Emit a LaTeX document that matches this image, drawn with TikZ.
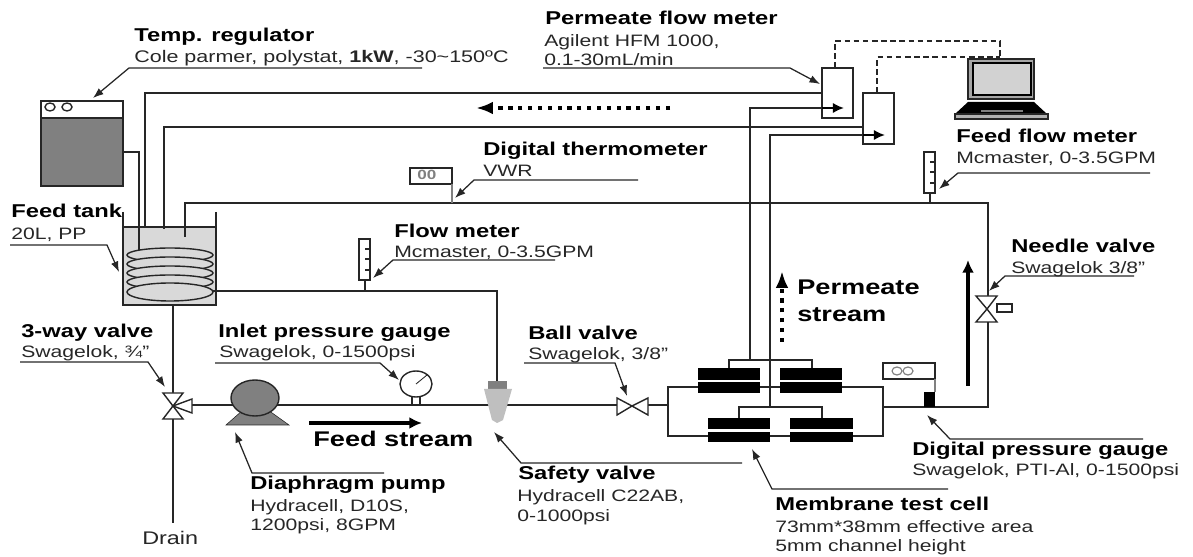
\documentclass[tikz,border=0pt]{standalone}
\usepackage{fontspec}
\usepackage{tikz}
\usetikzlibrary{arrows.meta}
\newfontfamily\wideface[FakeStretch=1.28]{Liberation Sans}
\definecolor{ink}{HTML}{262626}
\definecolor{tankgray}{HTML}{D9D9D9}
\definecolor{bodygray}{HTML}{808080}
\tikzset{
  pipe/.style={line width=1.1pt,draw=ink},
  leader/.style={line width=0.9pt,draw=ink,-{Latex[length=7.5pt,width=5.5pt]}},
  flowarrow/.style={line width=3pt,-{Latex[length=9pt,width=8.5pt]}},
  dotarrow/.style={line width=2.8pt,dash pattern=on 3pt off 4pt,-{Latex[length=12pt,width=9pt]}},
  datalink/.style={line width=0.9pt,dash pattern=on 4pt off 2.5pt,draw=ink},
  outline/.style={line width=1pt,draw=ink},
  plate/.style={fill=black},
  headtext/.style={anchor=base west,inner sep=0pt,font=\wideface\fontsize{13.2}{15}\selectfont\bfseries},
  subtext/.style={anchor=base west,inner sep=0pt,font=\wideface\fontsize{11.75}{14}\selectfont,text=ink},
  streamtext/.style={anchor=base west,inner sep=0pt,font=\wideface\fontsize{15.1}{18}\selectfont\bfseries}
}
\begin{document}
\begin{tikzpicture}[x=0.025cm,y=-0.025cm]
\useasboundingbox (0,0) rectangle (1193,557);
% temperature regulator
\coordinate (RegOut) at (123,152);
\coordinate (CoilTop) at (139,250);
\draw[outline,fill=bodygray] (41,118) rectangle (123,186);
\draw[outline,fill=white] (41,101) rectangle (123,118);
\draw[outline] (50,107) ellipse [x radius=5,y radius=4];
\draw[outline] (67,107) ellipse [x radius=5,y radius=4];
% feed tank
\coordinate (TankA) at (145,227);
\coordinate (TankB) at (164,229);
\coordinate (TankC) at (185,237);
\coordinate (CoilEnd) at (213,291);
\coordinate (TankOut) at (173,305);
\draw[outline,fill=tankgray] (123,227) rectangle (216,305);
\draw[outline] (123,212) -- (123,227);
\draw[outline] (216,212) -- (216,227);
\draw[outline,fill=tankgray] (170,255) ellipse [x radius=43,y radius=7];
\draw[outline,fill=tankgray] (170,264) ellipse [x radius=43,y radius=7];
\draw[outline,fill=tankgray] (170,273) ellipse [x radius=43,y radius=7];
\draw[outline,fill=tankgray] (170,282) ellipse [x radius=43,y radius=7];
\draw[outline,fill=tankgray] (170,292) ellipse [x radius=43,y radius=9];
\draw[pipe] (RegOut) -| (CoilTop);
% permeate flow meters
\coordinate (MeterATop) at (835,68);
\coordinate (MeterAIn) at (822,93);
\coordinate (MeterARet) at (822,108);
\coordinate (MeterATip) at (844,108);
\coordinate (MeterBTop) at (877,93);
\coordinate (MeterBIn) at (863,127);
\coordinate (MeterBRet) at (863,135);
\coordinate (MeterBTip) at (885,135);
\coordinate (LaptopA) at (1000,41);
\coordinate (LaptopB) at (1000,57);
\draw[outline] (822,68) rectangle (853,118);
\draw[outline] (863,93) rectangle (894,144);
\draw[pipe] (TankA) |- (MeterAIn);
\draw[pipe] (TankB) |- (MeterBIn);
\draw[datalink] (MeterATop) |- (LaptopA) -- (LaptopB);
\draw[datalink] (MeterBTop) |- (LaptopB);
% laptop
\draw[line width=1pt,draw=ink,fill=gray!70] (968,59) rectangle (1034,99);
\draw[line width=1pt,draw=black,fill=gray!35] (973,63) rectangle (1031,95);
\fill[black] (968,102) -- (1034,102) -- (1047,114) -- (955,114) -- cycle;
\fill[bodygray] (981,110) rectangle (1023,112);
\draw[outline,fill=gray!60] (955,114) rectangle (1048,119);
% feed loop back from the needle valve
\coordinate (SensorEnd) at (988,296);
\coordinate (CellOut) at (988,322);
\draw[pipe] (TankC) |- (988,203) -- (SensorEnd);
% needle valve
\draw[outline,fill=white] (976,296) -- (997,296) -- (987,309) -- (997,322) -- (976,322) -- (987,309) -- cycle;
\draw[outline,fill=white] (997,304) rectangle (1012,312);
% thermometer
\coordinate (ThermoOut) at (452,184);
\coordinate (ThermoIn) at (452,203);
\draw[outline] (410,168) rectangle (452,184);
\node[subtext,text=bodygray,font=\wideface\fontsize{9.5}{10}\selectfont\bfseries] (ThermoRead) at (417,180) {00};
\draw[pipe,draw=bodygray] (ThermoOut) -- (ThermoIn);
% feed flow meter
\coordinate (FeedStem) at (930,193);
\coordinate (FeedStemEnd) at (930,203);
\draw[outline] (924,152) rectangle (935,193);
\draw[outline] (930,162) -- (935,162) (930,172) -- (935,172) (930,183) -- (935,183);
\draw[pipe] (FeedStem) -- (FeedStemEnd);
% flow meter and bypass to the safety valve
\coordinate (FlowStem) at (365,280);
\coordinate (FlowStemEnd) at (365,291);
\coordinate (SafetyIn) at (497,381);
\draw[outline] (359,239) rectangle (370,280);
\draw[outline] (365,249) -- (370,249) (365,259) -- (370,259) (365,270) -- (370,270);
\draw[pipe] (FlowStem) -- (FlowStemEnd);
\draw[pipe] (CoilEnd) -| (SafetyIn);
% main feed line
\coordinate (DrainEnd) at (173,523);
\coordinate (ThreeOut) at (192,405);
\coordinate (BallIn) at (617,405);
\coordinate (BallOut) at (648,405);
\coordinate (LoopIn) at (668,405);
\draw[pipe] (TankOut) -- (DrainEnd);
\draw[pipe] (ThreeOut) -- (BallIn);
\draw[pipe] (BallOut) -- (LoopIn);
% 3-way valve
\draw[outline,fill=white] (163,393) -- (183,393) -- (173,406) -- (183,419) -- (163,419) -- (173,406) -- cycle;
\draw[outline,fill=white] (173,406) -- (192,399) -- (192,413) -- cycle;
% pump
\fill[bodygray,draw=ink,line width=0.4pt] (226,425) -- (243,410) -- (268,410) -- (289,425) -- cycle;
\draw[outline,fill=bodygray] (255,398) ellipse [x radius=24,y radius=18];
% inlet gauge
\draw[outline,fill=white] (416,384) ellipse [x radius=16,y radius=13];
\draw[line width=0.6pt,draw=ink] (416,384) -- (427,375);
\draw[outline] (412,397) -- (412,405) (420,397) -- (420,405);
% safety valve
\fill[bodygray] (488,381) rectangle (507,389);
\fill[gray!50] (484,389) -- (512,389) -- (503,420) -- (497,423) -- (492,420) -- cycle;
% ball valve
\draw[outline,fill=white] (617,398) -- (632,406) -- (617,415) -- cycle;
\draw[outline,fill=white] (648,398) -- (632,406) -- (648,415) -- cycle;
% membrane cells
\coordinate (PermA) at (750,360);
\coordinate (PermB) at (770,407);
\coordinate (LoopOut) at (883,407);
\coordinate (ValveFeed) at (988,407);
\draw[pipe] (668,387) rectangle (883,436);
\draw[pipe] (LoopIn) -- (668,387);
\draw[pipe] (LoopOut) -- (ValveFeed) -- (CellOut);
\draw[pipe] (729,368) |- (812,360) -- (812,368);
\draw[pipe] (739,418) |- (822,407) -- (822,418);
\draw[pipe] (PermA) |- (MeterARet);
\draw[pipe] (PermB) |- (MeterBRet);
\draw[plate] (698,368) rectangle (759,379);
\draw[plate] (698,382) rectangle (759,392);
\draw[plate] (780,368) rectangle (841,379);
\draw[plate] (780,382) rectangle (841,392);
\draw[plate] (708,418) rectangle (769,428);
\draw[plate] (708,432) rectangle (769,441);
\draw[plate] (790,418) rectangle (852,428);
\draw[plate] (790,432) rectangle (852,441);
% digital pressure gauge
\draw[outline] (883,363) rectangle (935,379);
\draw[line width=0.8pt,draw=bodygray] (897,371) ellipse [x radius=5,y radius=4];
\draw[line width=0.8pt,draw=bodygray] (908,371) ellipse [x radius=5,y radius=4];
\draw[pipe,draw=bodygray] (935,379) -- (935,392);
\fill[black] (924,392) rectangle (935,407);
% flow direction
\coordinate (ReturnFrom) at (670,108);
\coordinate (ReturnTo) at (476,108);
\coordinate (PermFrom) at (782,342);
\coordinate (PermTo) at (782,271);
\coordinate (FeedFrom) at (309,423);
\coordinate (FeedTo) at (422,423);
\coordinate (RiseFrom) at (968,386);
\coordinate (RiseTo) at (968,260);
\draw[line width=2pt,-{Latex[length=8pt,width=7.5pt]}] (MeterARet) -- (MeterATip);
\draw[line width=2pt,-{Latex[length=8pt,width=7.5pt]}] (MeterBRet) -- (MeterBTip);
\draw[dotarrow] (ReturnFrom) -- (ReturnTo);
\draw[dotarrow] (PermFrom) -- (PermTo);
\draw[flowarrow] (FeedFrom) -- (FeedTo);
\draw[flowarrow] (RiseFrom) -- (RiseTo);
\node[streamtext] (FeedLabel) at (313,447) {Feed stream};
\node[streamtext] (PermLabelA) at (797,295) {Permeate};
\node[streamtext] (PermLabelB) at (797,322) {stream};
\node[subtext,text=ink,font=\wideface\fontsize{13}{15}\selectfont] (DrainLabel) at (142,544) {Drain};
% labels and their leaders
\node[headtext] (RegHead) at (134,42) {Temp. regulator};
\node[subtext,font=\wideface\fontsize{11.95}{14}\selectfont] (RegSub) at (134,63) {Cole parmer, polystat, {\bfseries 1kW}, -30\textasciitilde150ºC};
\draw[leader] (422,68) -- (129,68) -- (93,98);
\node[headtext] (PermMeterHead) at (545,25) {Permeate flow meter};
\node[subtext] (PermMeterSub) at (544,47) {Agilent HFM 1000,};
\node[subtext] (PermMeterRange) at (544,66) {0.1-30mL/min};
\draw[leader] (543,68) -- (790,68) -- (820,84);
\node[headtext] (ThermoHead) at (483,156) {Digital thermometer};
\node[subtext] (ThermoSub) at (483,177) {VWR};
\draw[leader] (638,180) -- (474,180) -- (455,198);
\node[headtext] (FeedMeterHead) at (956,143) {Feed flow meter};
\node[subtext] (FeedMeterSub) at (956,164) {Mcmaster, 0-3.5GPM};
\draw[leader] (1150,173) -- (958,173) -- (939,189);
\node[headtext] (TankHead) at (11,218) {Feed tank};
\node[subtext] (TankSub) at (11,240) {20L, PP};
\draw[leader] (10,245) -- (107,245) -- (119,272);
\node[headtext] (FlowHead) at (394,238) {Flow meter};
\node[subtext] (FlowSub) at (394,258) {Mcmaster, 0-3.5GPM};
\draw[leader] (555,260) -- (393,260) -- (373,278);
\node[headtext] (NeedleHead) at (1011,253) {Needle valve};
\node[subtext] (NeedleSub) at (1011,274) {Swagelok 3/8”};
\draw[leader] (1134,276) -- (1005,276) -- (989,291);
\node[headtext] (ThreeHead) at (21,338) {3-way valve};
\node[subtext] (ThreeSub) at (21,358) {Swagelok, ¾”};
\draw[leader] (20,362) -- (148,362) -- (165,387);
\node[headtext] (InletHead) at (218,338) {Inlet pressure gauge};
\node[subtext] (InletSub) at (219,358) {Swagelok, 0-1500psi};
\draw[leader] (215,363) -- (380,363) -- (399,380);
\node[headtext] (BallHead) at (528,340) {Ball valve};
\node[subtext] (BallSub) at (528,360) {Swagelok, 3/8”};
\draw[leader] (524,363) -- (615,363) -- (627,396);
\node[headtext] (SafetyHead) at (518,480) {Safety valve};
\node[subtext] (SafetySub) at (517,502) {Hydracell C22AB,};
\node[subtext] (SafetyRange) at (517,522) {0-1000psi};
\draw[leader] (742,463) -- (521,463) -- (494,432);
\node[headtext] (PumpHead) at (250,490) {Diaphragm pump};
\node[subtext] (PumpSub) at (250,512) {Hydracell, D10S,};
\node[subtext] (PumpRange) at (250,531) {1200psi, 8GPM};
\draw[leader] (384,473) -- (252,473) -- (235,432);
\node[headtext] (PressHead) at (912,456) {Digital pressure gauge};
\node[subtext] (PressSub) at (912,476) {Swagelok, PTI-Al, 0-1500psi};
\draw[leader] (1143,439) -- (950,439) -- (927,415);
\node[headtext] (CellHead) at (775,511) {Membrane test cell};
\node[subtext] (CellSub) at (775,532) {73mm*38mm effective area};
\node[subtext] (CellChannel) at (775,552) {5mm channel height};
\draw[leader] (948,489) -- (772,489) -- (752,449);
\end{tikzpicture}
\end{document}
